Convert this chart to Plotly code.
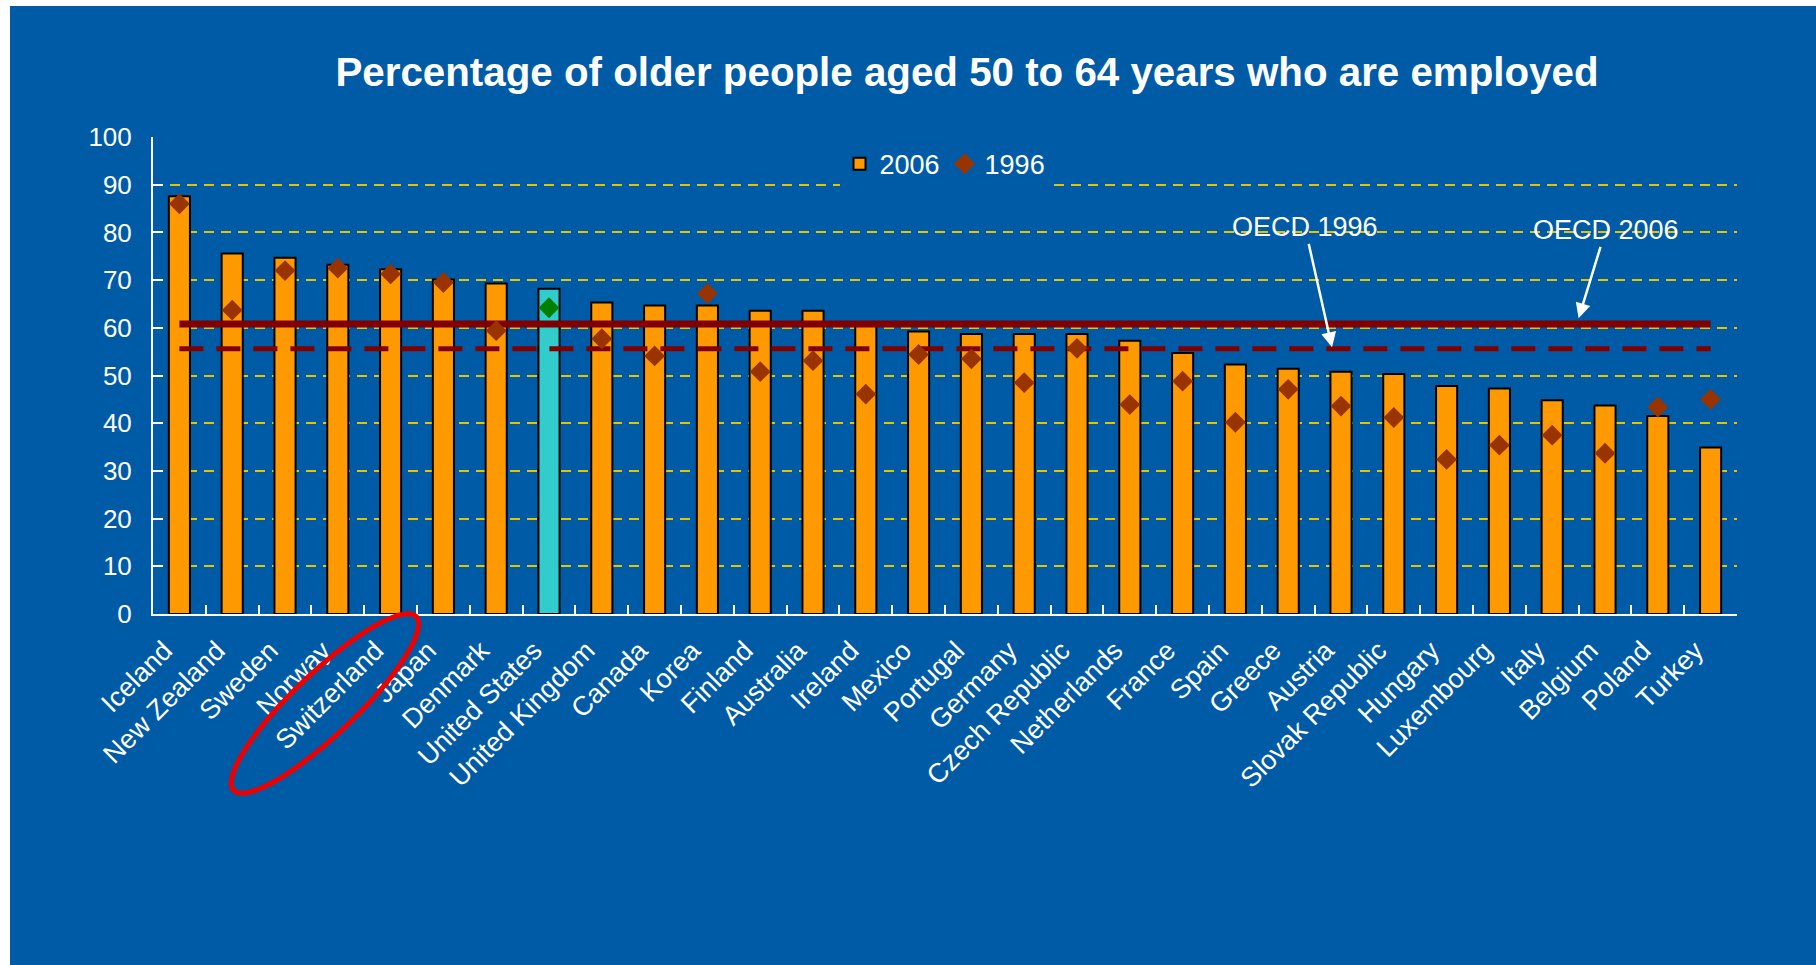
import numpy as np
import plotly.graph_objects as go

# ---------------- data ----------------
countries = ["Iceland", "New Zealand", "Sweden", "Norway", "Switzerland", "Japan", "Denmark",
             "United States", "United Kingdom", "Canada", "Korea", "Finland", "Australia",
             "Ireland", "Mexico", "Portugal", "Germany", "Czech Republic", "Netherlands",
             "France", "Spain", "Greece", "Austria", "Slovak Republic", "Hungary",
             "Luxembourg", "Italy", "Belgium", "Poland", "Turkey"]
emp_2006 = [87.6, 75.6, 74.7, 73.2, 72.3, 70.1, 69.3, 68.2, 65.3, 64.7, 64.7, 63.6, 63.6,
            61.2, 59.2, 58.7, 58.7, 58.7, 57.3, 54.7, 52.3, 51.4, 50.8, 50.3, 47.8,
            47.3, 44.8, 43.7, 41.5, 34.9]
emp_1996 = [86.0, 63.7, 72.0, 72.5, 71.3, 69.5, 59.4, 64.2, 57.7, 54.1, 67.2, 50.8, 53.1,
            46.1, 54.4, 53.5, 48.5, 55.7, 43.9, 48.8, 40.2, 47.1, 43.6, 41.2, 32.4,
            35.4, 37.5, 33.7, 43.4, 45.0]
oecd_2006 = 60.8
oecd_1996 = 55.6
highlight = "United States"
y_ticks = list(range(0, 101, 10))

# ---------------- styling ----------------
W, H = 1816, 965
L, R, T, B = 153, 79, 137, 351
PW, PH = W - L - R, H - T - B
BLUE = "rgb(0,91,166)"
ORANGE = "#FF9900"
TURQ = "#33CCCC"
BROWN = "#993300"
GREEN = "#008000"
DARKRED = "#800000"
GOLD = "#E6C300"
FONT = "Liberation Sans, Arial, sans-serif"


def px2paper(px, py):
    return (np.asarray(px) - L) / PW, (H - B - np.asarray(py)) / PH


bar_colors = [TURQ if c == highlight else ORANGE for c in countries]
dia_colors = [GREEN if c == highlight else BROWN for c in countries]

fig = go.Figure()
fig.add_trace(go.Bar(
    x=countries, y=emp_2006, name="2006", width=0.4,
    marker=dict(color=bar_colors, line=dict(color="black", width=2)),
))
fig.add_trace(go.Scatter(
    x=[countries[0], countries[-1]], y=[oecd_2006, oecd_2006], mode="lines",
    line=dict(color=DARKRED, width=7), showlegend=False, hoverinfo="skip",
))
fig.add_trace(go.Scatter(
    x=[countries[0], countries[-1]], y=[oecd_1996, oecd_1996], mode="lines",
    line=dict(color=DARKRED, width=5, dash="24px,13px"), showlegend=False, hoverinfo="skip",
))
fig.add_trace(go.Scatter(
    x=countries, y=emp_1996, name="1996", mode="markers",
    marker=dict(symbol="diamond", size=16, color=dia_colors, line=dict(width=0)),
))

# background box (white strip on left/top)
bx0, by0 = px2paper(10, 6)
bx1, by1 = px2paper(W, H)
shapes = [dict(type="rect", xref="paper", yref="paper", x0=float(bx0), y0=float(by1),
               x1=float(bx1), y1=float(by0), fillcolor=BLUE, line=dict(width=0), layer="below")]

# red ellipse highlighting Switzerland
cx, cy, a, b, th = 325, 703.5, 126, 31, np.deg2rad(43.6)
t = np.linspace(0, 2 * np.pi, 73)
ex = cx + a * np.cos(t) * np.cos(th) - b * np.sin(t) * np.sin(th)
ey = cy - (a * np.cos(t) * np.sin(th) + b * np.sin(t) * np.cos(th))
epx, epy = px2paper(ex, ey)
path = "M" + " L".join(f"{x:.5f},{y:.5f}" for x, y in zip(epx, epy)) + " Z"
shapes.append(dict(type="path", xref="paper", yref="paper", path=path,
                   line=dict(color="#EE0000", width=5), layer="above"))

annotations = [
    dict(x=21.83, y=oecd_1996 + 0.3, xref="x", yref="y", text="OECD 1996", showarrow=True,
         ax=-27, ay=-120, arrowcolor="white", arrowwidth=2.5, arrowhead=2, arrowsize=1.2,
         font=dict(family=FONT, size=27, color="white")),
    dict(x=26.5, y=62.0, xref="x", yref="y", text="OECD 2006", showarrow=True,
         ax=27, ay=-88, arrowcolor="white", arrowwidth=2.5, arrowhead=2, arrowsize=1.2,
         font=dict(family=FONT, size=27, color="white")),
]

fig.update_layout(
    width=W, height=H,
    margin=dict(l=L, r=R, t=T, b=B),
    paper_bgcolor="white",
    plot_bgcolor="rgba(0,0,0,0)",
    title=dict(text="Percentage of older people aged 50 to 64 years who are employed",
               x=967 / W, xanchor="center", y=1 - 72 / H, yanchor="middle",
               font=dict(family=FONT, size=40.3, color="white", weight="bold")),
    font=dict(family=FONT, color="white"),
    showlegend=True,
    legend=dict(orientation="h", x=0.5, xanchor="center", y=0.943, yanchor="middle",
                bgcolor=BLUE, font=dict(family=FONT, size=27, color="white"),
                traceorder="normal"),
    shapes=shapes,
    annotations=annotations,
    bargap=0.6,
)
fig.update_xaxes(
    type="category", range=[-0.5, len(countries) - 0.5],
    tickangle=-45, tickson="boundaries", ticks="inside", ticklen=9, tickwidth=2,
    tickcolor="white", showline=True, linecolor="white", linewidth=2,
    showgrid=False, tickfont=dict(family=FONT, size=27, color="white"),
    ticklabelstandoff=8, ticklabelshift=-15,
)
fig.update_yaxes(
    range=[0, 100], tickvals=y_ticks, ticks="inside", ticklen=10, tickwidth=2,
    tickcolor="white", showline=True, linecolor="white", linewidth=2,
    showgrid=True, gridcolor=GOLD, gridwidth=2, griddash="10px,7px",
    zeroline=False, tickfont=dict(family=FONT, size=26, color="white"),
    ticklabelstandoff=14,
)

fig.write_html("out.html")
